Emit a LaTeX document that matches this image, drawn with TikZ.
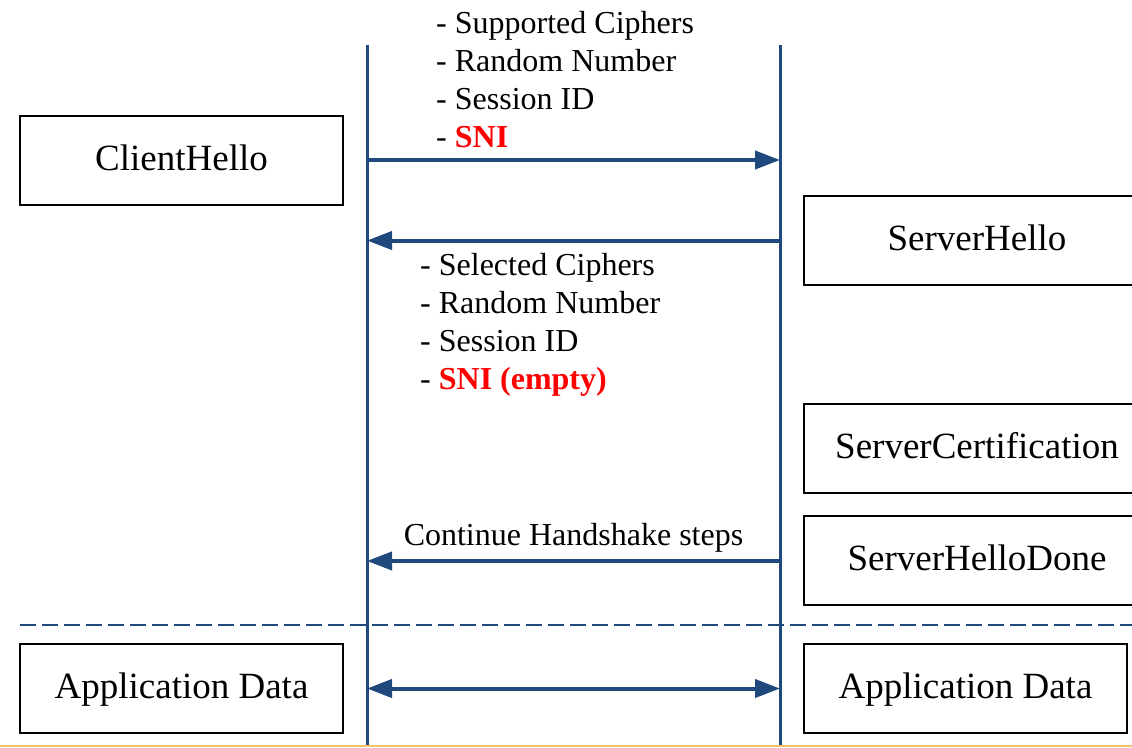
\documentclass[tikz,border=0pt]{standalone}
\usepackage{fontspec}
\setmainfont{Liberation Serif}
\usetikzlibrary{arrows.meta}
\definecolor{lifeblue}{RGB}{31,73,125}
\definecolor{sniRed}{RGB}{255,0,0}
\definecolor{bottomorange}{RGB}{249,195,106}
\tikzset{
  box/.style={draw=black, line width=1.5pt, minimum width=323pt, minimum height=89pt, inner sep=0pt, text height=25pt, text depth=6pt, font=\fontsize{37}{44}\selectfont},
  rbox/.style={box, minimum width=346pt},
  lifeline/.style={draw=lifeblue, line width=3pt},
  msg/.style={draw=lifeblue, line width=4pt, -{Triangle[length=25pt,width=18pt]}},
  dmsg/.style={draw=lifeblue, line width=4pt, {Triangle[length=25pt,width=18pt]}-{Triangle[length=25pt,width=18pt]}},
  listtxt/.style={anchor=base west, inner sep=0pt, font=\fontsize{32}{38}\selectfont},
}
\begin{document}
\begin{tikzpicture}[x=1pt,y=-1pt]
\useasboundingbox (0,0) rectangle (1132,747);
% lifelines
\coordinate (cTop) at (367,45);
\coordinate (cBot) at (367,747);
\coordinate (sTop) at (780,45);
\coordinate (sBot) at (780,747);
\draw[lifeline] (cTop) -- (cBot);
\draw[lifeline] (sTop) -- (sBot);
% bottom orange line
\coordinate (oL) at (0,745.5);
\coordinate (oR) at (1132,745.5);
\draw[draw=bottomorange, line width=2pt] (oL) -- (oR);
% boxes
\node[box] (clienthello) at (181.5,160.5) {ClientHello};
\node[rbox] (serverhello) at (977,240.5) {ServerHello};
\node[rbox] (servercert) at (977,448.5) {ServerCertification};
\node[rbox] (serverdone) at (977,560.5) {ServerHelloDone};
\node[box] (appc) at (181.5,688.5) {Application Data};
\node[box] (apps) at (965.5,688.5) {Application Data};
% dashed separator
\coordinate (dL) at (20,625);
\coordinate (dR) at (1132,625);
\draw[draw=lifeblue, line width=2.2pt, dash pattern=on 16pt off 6pt] (dL) -- (dR);
% messages
\coordinate (c1) at (367,160);
\coordinate (s1) at (780,160);
\coordinate (c2) at (367,240.5);
\coordinate (s2) at (780,240.5);
\coordinate (c3) at (367,561);
\coordinate (s3) at (780,561);
\coordinate (c4) at (367,688.5);
\coordinate (s4) at (780,688.5);
\draw[msg] (c1) -- (s1);
\draw[msg] (s2) -- (c2);
\draw[msg] (s3) -- (c3);
\draw[dmsg] (c4) -- (s4);
% labels
\node[listtxt] (r1) at (436,33) {- Supported Ciphers};
\node[listtxt] (r2) at (436,71) {- Random Number};
\node[listtxt] (r3) at (436,109) {- Session ID};
\node[listtxt] (r4) at (436,147) {- \textcolor{sniRed}{\textbf{SNI}}};
\node[listtxt] (p1) at (420,275) {- Selected Ciphers};
\node[listtxt] (p2) at (420,313) {- Random Number};
\node[listtxt] (p3) at (420,351) {- Session ID};
\node[listtxt] (p4) at (420,389) {- \textcolor{sniRed}{\textbf{SNI (empty)}}};
\node[anchor=base, inner sep=0pt, font=\fontsize{32}{38}\selectfont] (cont) at (573.5,545) {Continue Handshake steps};
\end{tikzpicture}
\end{document}
